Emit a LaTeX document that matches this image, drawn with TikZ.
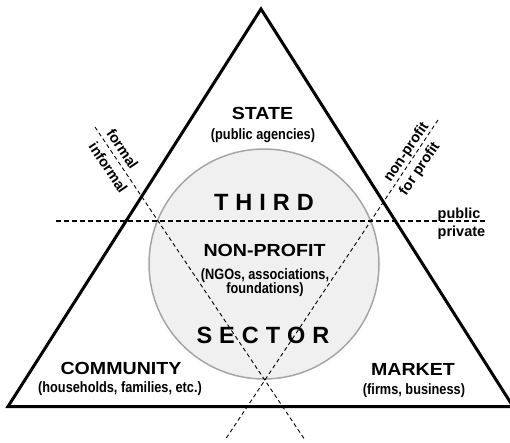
\documentclass[tikz,border=0pt]{standalone}
\usepackage{fontspec}
\setmainfont{Liberation Sans}
\newfontfamily\widefont[FakeStretch=1.12]{Liberation Sans}
\newfontfamily\narrowfont[FakeStretch=0.85]{Liberation Sans}
\newcommand\gap{\kern7pt}
\begin{document}
\begin{tikzpicture}[x=1pt,y=-1pt,
        head/.style={inner sep=0pt,font=\widefont\bfseries\fontsize{17.5}{19}\selectfont},
        note/.style={inner sep=0pt,align=center,font=\narrowfont\bfseries\fontsize{15}{14}\selectfont},
        big/.style={inner sep=0pt,font=\bfseries\fontsize{23.5}{25}\selectfont},
        side/.style={inner sep=0pt,font=\bfseries\fontsize{14.5}{16}\selectfont},
        divide/.style={dash pattern=on 4pt off 3pt,line width=0.9pt}]
        \useasboundingbox (0,0) rectangle (510,442);
        \coordinate (top) at (261,9);
        \coordinate (left) at (8,406.5);
        \coordinate (right) at (513,406.5);
        \draw [line width=3pt] (top) -- (left) -- (right) -- cycle;
        \draw [draw=gray!70,fill=gray!12,line width=1.5pt] (264,264) circle [radius=115pt];
        \coordinate (pl) at (56,221);
        \coordinate (pr) at (485,221);
        \coordinate (fl) at (95,127);
        \coordinate (fb) at (305,440);
        \coordinate (nr) at (438,120);
        \coordinate (nb) at (225,440);
        \draw [divide,dash pattern=on 5pt off 3pt,line width=1.2pt] (pl) -- (pr);
        \draw [divide] (fl) -- (fb);
        \draw [divide] (nr) -- (nb);
        \node [head] (state) at (262.5,113) {STATE};
        \node [note] (statenote) at (263,135.5) {(public agencies)};
        \node [big] (third) at (264,202.5) {T\gap H\gap I\gap R\gap D};
        \node [head] (nonprofit) at (264.5,250) {NON-PROFIT};
        \node [note] (nonprofitnote) at (265,283) {(NGOs, associations,\\foundations)};
        \node [big] (sector) at (263,335) {S\gap E\gap C\gap T\gap O\gap R};
        \node [head] (community) at (121,368.5) {COMMUNITY};
        \node [note] (communitynote) at (120,389) {(households, families, etc.)};
        \node [head] (market) at (413,369) {MARKET};
        \node [note] (marketnote) at (414,391) {(firms, business)};
        \node [side,anchor=base west] (public) at (437.5,218) {public};
        \node [side,anchor=base west] (private) at (437.5,236) {private};
        \node [side,rotate=-56] (formal) at (122.5,149) {formal};
        \node [side,rotate=-56] (informal) at (108.3,167.5) {informal};
        \node [side,rotate=56] (nonprofitside) at (406.7,152.5) {non-profit};
        \node [side,rotate=56] (forprofit) at (420,169) {for profit};
\end{tikzpicture}
\end{document}
